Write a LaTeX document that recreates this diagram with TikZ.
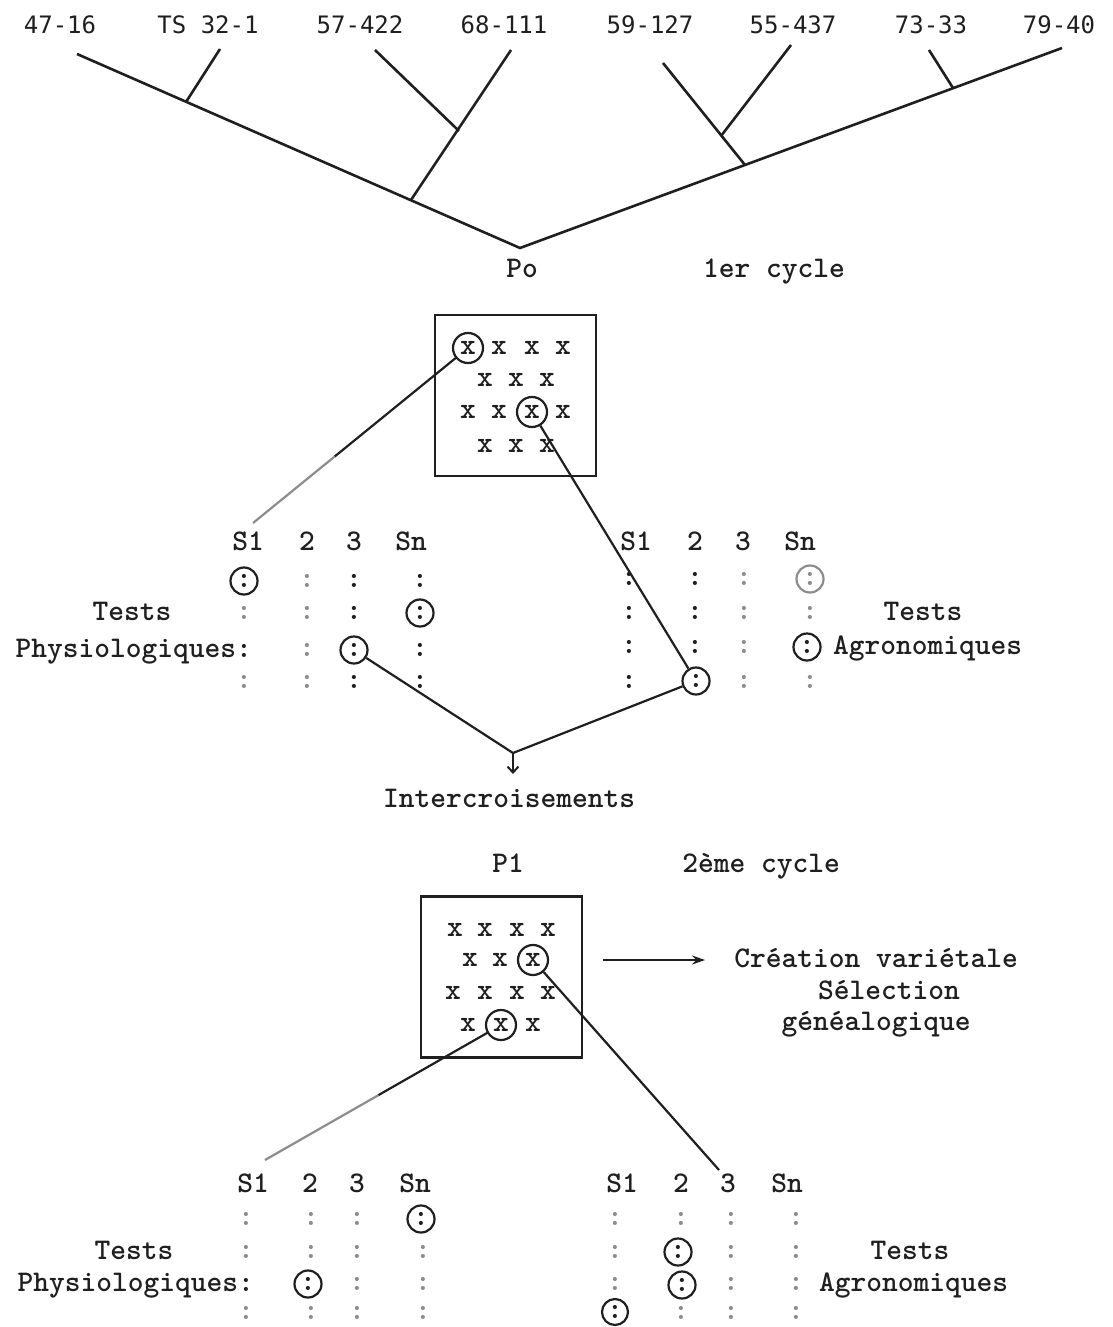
\documentclass[tikz,border=0pt]{standalone}
\usepackage{fontspec}
\newfontfamily\labfont{DejaVu Sans Mono}
\usetikzlibrary{arrows.meta,calc}
\definecolor{ink}{gray}{0.12}
\definecolor{faded}{gray}{0.55}
\begin{document}
\begin{tikzpicture}[x=1pt,y=-1pt,
  every node/.style={inner sep=0pt, text=ink},
  mytw/.style={font=\ttfamily\bfseries\fontsize{30}{36}\selectfont, anchor=base},
  mylab/.style={font=\labfont\fontsize{24}{28}\selectfont, anchor=base},
  mycol/.style={font=\ttfamily\bfseries\fontsize{30}{36}\selectfont},
  mycolf/.style={mycol, text=faded},
  myring/.style={mycol, draw=ink, circle, line width=2.2pt, minimum size=27pt},
  myringf/.style={myring, draw=faded, text=faded},
  myxring/.style={myring, minimum size=30pt},
  mytree/.style={draw=ink, line width=2.6pt},
  myconn/.style={draw=ink, line width=2.2pt},
  mybox/.style={draw=ink, line width=2.4pt, minimum width=161pt, minimum height=161pt},
]
\useasboundingbox (0,0) rectangle (1112,1327);

% ---------- top tree ----------
\node[mylab] (l1) at (60,34) {47-16};
\node[mylab] (l2) at (208,34) {TS 32-1};
\node[mylab] (l3) at (360,34) {57-422};
\node[mylab] (l4) at (504,34) {68-111};
\node[mylab] (l5) at (650,34) {59-127};
\node[mylab] (l6) at (793,34) {55-437};
\node[mylab] (l7) at (931,34) {73-33};
\node[mylab] (l8) at (1059,34) {79-40};

\coordinate (po) at (520,248);
\coordinate (e1) at (77,54);
\coordinate (e2) at (220,49);  \coordinate (j2) at (186,102);
\coordinate (e3) at (375,50);  \coordinate (j3) at (459,131);
\coordinate (e4) at (511,50);  \coordinate (j4) at (411,200);
\coordinate (e5) at (663,63);  \coordinate (j5) at (745,165);
\coordinate (e6) at (791,45);  \coordinate (j6) at (721,136);
\coordinate (e7) at (929,50);  \coordinate (j7) at (953,88);
\coordinate (e8) at (1062,48);
\draw[mytree] (e1) -- (po) -- (e8);
\draw[mytree] (e2) -- (j2);
\draw[mytree] (e3) -- (j3);
\draw[mytree] (e4) -- (j4);
\draw[mytree] (e5) -- (j5);
\draw[mytree] (e6) -- (j6);
\draw[mytree] (e7) -- (j7);

\node[mytw] (pzero) at (522,277) {Po};
\node[mytw] (cyc1) at (774,277) {1er cycle};

% ---------- top box ----------
\node[mybox] (box1) at (515.5,395.5) {};
\node[myxring] (bx1a) at (468,348) {x};
\node[mycol] (b1x12) at (499,348) {x};
\node[mycol] (b1x13) at (532,348) {x};
\node[mycol] (b1x14) at (563,348) {x};
\node[mycol] (b1x21) at (485,380) {x};
\node[mycol] (b1x22) at (516,380) {x};
\node[mycol] (b1x23) at (547,380) {x};
\node[mycol] (b1x31) at (468,412) {x};
\node[mycol] (b1x32) at (499,412) {x};
\node[myxring] (bx1b) at (532,412) {x};
\node[mycol] (b1x34) at (563,412) {x};
\node[mycol] (b1x41) at (485,446) {x};
\node[mycol] (b1x42) at (516,446) {x};
\node[mycol] (b1x43) at (547,446) {x};

% ---------- top-left group ----------
\node[mytw] (tlh1) at (248,550) {S1};
\node[mytw] (tlh2) at (307,550) {2};
\node[mytw] (tlh3) at (354,550) {3};
\node[mytw] (tlh4) at (411,550) {Sn};
\node[myring] (tl11) at (244,581) {:};
\node[mycolf] (tl12) at (307,581) {:};
\node[mycol] (tl13) at (354,581) {:};
\node[mycol] (tl14) at (420,581) {:};
\node[mycolf] (tl21) at (244,613) {:};
\node[mycolf] (tl22) at (307,613) {:};
\node[mycol] (tl23) at (354,613) {:};
\node[myring] (tl24) at (420,613) {:};
\node[mycolf] (tl32) at (307,650) {:};
\node[myring] (tl33) at (354,650) {:};
\node[mycol] (tl34) at (420,650) {:};
\node[mycolf] (tl41) at (244,682) {:};
\node[mycolf] (tl42) at (307,682) {:};
\node[mycol] (tl43) at (354,682) {:};
\node[mycol] (tl44) at (420,682) {:};
\node[mytw] (tltests) at (132,620) {Tests};
\node[mytw, anchor=base east] (tlphys) at (252,657) {Physiologiques:};

% ---------- top-right group ----------
\node[mytw] (trh1) at (636,550) {S1};
\node[mytw] (trh2) at (695,550) {2};
\node[mytw] (trh3) at (743,550) {3};
\node[mytw] (trh4) at (800,550) {Sn};
\node[mycol] (tr11) at (629,579) {:};
\node[mycol] (tr12) at (695,579) {:};
\node[mycolf] (tr13) at (744,579) {:};
\node[myringf] (tr14) at (810,579) {:};
\node[mycol] (tr21) at (629,613) {:};
\node[mycol] (tr22) at (695,613) {:};
\node[mycolf] (tr23) at (744,613) {:};
\node[mycolf] (tr24b) at (810,613) {:};
\node[mycol] (tr31) at (629,647) {:};
\node[mycol] (tr32) at (695,647) {:};
\node[mycolf] (tr33) at (744,647) {:};
\node[myring] (tr34) at (807,647) {:};
\node[mycol] (tr41) at (629,682) {:};
\node[myring] (tr42) at (696,681) {:};
\node[mycolf] (tr43) at (744,682) {:};
\node[mycolf] (tr44) at (810,682) {:};
\node[mytw] (trtests) at (923,620) {Tests};
\node[mytw, anchor=base west] (tragro) at (833,654) {Agronomiques};

% ---------- connectors, first cycle ----------
\coordinate (s1top) at (253,523);
\coordinate (m1) at ($(bx1a)!0.62!(s1top)$);
\draw[myconn, shorten <=15pt] (bx1a.center) -- (m1);
\draw[myconn, draw=faded] (m1) -- (s1top);
\draw[myconn] (bx1b) -- (tr42);
\coordinate (apex) at (513,753);
\coordinate (arrtip) at (513,774);
\draw[myconn, line join=miter] (tl33) -- (apex) -- (tr42);
\draw[myconn, -{Straight Barb[length=6pt,width=11pt,line width=2pt]}] (apex) -- (arrtip);
\node[mytw] (inter) at (509,807) {Intercroisements};

% ---------- second cycle ----------
\node[mytw] (pone) at (508,872) {P1};
\node[mytw] (cyc2) at (761,872) {2ème cycle};

\node[mybox] (box2) at (501.5,977) {};
\node[mycol] (b2x11) at (455,930) {x};
\node[mycol] (b2x12) at (485,930) {x};
\node[mycol] (b2x13) at (517,930) {x};
\node[mycol] (b2x14) at (548,930) {x};
\node[mycol] (b2x21) at (470,960) {x};
\node[mycol] (b2x22) at (500,960) {x};
\node[myxring] (bx2a) at (533,960) {x};
\node[mycol] (b2x31) at (453,993) {x};
\node[mycol] (b2x32) at (485,993) {x};
\node[mycol] (b2x33) at (517,993) {x};
\node[mycol] (b2x34) at (548,993) {x};
\node[mycol] (b2x41) at (468,1025) {x};
\node[myxring] (bx2b) at (501,1025) {x};
\node[mycol] (b2x43) at (533,1025) {x};

\coordinate (arrs) at (603,960);
\coordinate (arre) at (705,960);
\draw[myconn, -{Stealth[length=13pt,width=9pt]}] (arrs) -- (arre);
\node[mytw] (crea) at (876,967) {Création variétale};
\node[mytw] (sele) at (889,999) {Sélection};
\node[mytw] (gene) at (876,1030) {généalogique};

% ---------- bottom-left group ----------
\node[mytw] (blh1) at (253,1192) {S1};
\node[mytw] (blh2) at (310,1192) {2};
\node[mytw] (blh3) at (357,1192) {3};
\node[mytw] (blh4) at (415,1192) {Sn};
\node[mycolf] (bl11) at (246,1219) {:};
\node[mycolf] (bl12) at (311,1219) {:};
\node[mycolf] (bl13) at (357,1219) {:};
\node[myring] (bl14) at (421,1219) {:};
\node[mycolf] (bl21) at (246,1252) {:};
\node[mycolf] (bl22) at (311,1252) {:};
\node[mycolf] (bl23) at (357,1252) {:};
\node[mycolf] (bl24) at (423,1252) {:};
\node[myring] (bl32) at (308,1284) {:};
\node[mycolf] (bl33) at (357,1284) {:};
\node[mycolf] (bl34) at (423,1284) {:};
\node[mycolf] (bl41) at (246,1313) {:};
\node[mycolf] (bl42) at (311,1313) {:};
\node[mycolf] (bl43) at (357,1313) {:};
\node[mycolf] (bl44) at (423,1313) {:};
\node[mytw] (bltests) at (134,1259) {Tests};
\node[mytw, anchor=base east] (blphys) at (254,1291) {Physiologiques:};

% ---------- bottom-right group ----------
\node[mytw] (brh1) at (622,1192) {S1};
\node[mytw] (brh2) at (681,1192) {2};
\node[mytw] (brh3) at (728,1192) {3};
\node[mytw] (brh4) at (787,1192) {Sn};
\node[mycolf] (br11) at (615,1219) {:};
\node[mycolf] (br12) at (681,1219) {:};
\node[mycolf] (br13) at (731,1219) {:};
\node[mycolf] (br14) at (796,1219) {:};
\node[mycolf] (br21) at (615,1252) {:};
\node[myring] (br22) at (678,1252) {:};
\node[mycolf] (br23) at (731,1252) {:};
\node[mycolf] (br24) at (796,1252) {:};
\node[mycolf] (br31) at (615,1284) {:};
\node[myring] (br32) at (682,1285) {:};
\node[mycolf] (br33) at (731,1284) {:};
\node[mycolf] (br34) at (796,1284) {:};
\node[myring, minimum size=26pt] (br41) at (615,1312) {:};
\node[mycolf] (br42) at (681,1313) {:};
\node[mycolf] (br43) at (731,1313) {:};
\node[mycolf] (br44) at (796,1313) {:};
\node[mytw] (brtests) at (910,1259) {Tests};
\node[mytw, anchor=base west] (bragro) at (819,1291) {Agronomiques};

% ---------- connectors, second cycle ----------
\coordinate (s1bot) at (265,1160);
\coordinate (m2) at ($(bx2b)!0.52!(s1bot)$);
\draw[myconn, shorten <=15pt] (bx2b.center) -- (m2);
\draw[myconn, draw=faded] (m2) -- (s1bot);
\coordinate (e3b) at (719,1170);
\draw[myconn] (bx2a) -- (e3b);
\end{tikzpicture}
\end{document}
